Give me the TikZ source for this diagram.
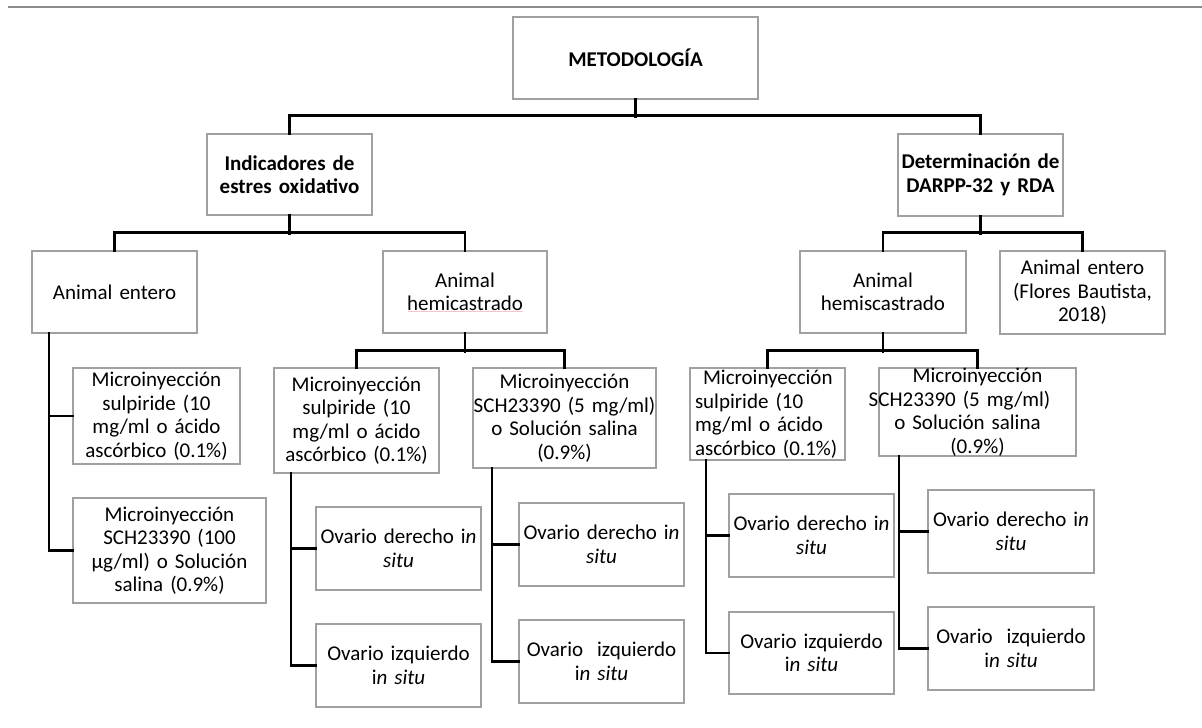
\documentclass[tikz,border=0pt]{standalone}
\usepackage{fontspec}
\setmainfont{Carlito}
\definecolor{boxgray}{HTML}{A0A0A0}
\definecolor{rulegray}{HTML}{8C8C8C}
\definecolor{spellred}{HTML}{F6C4CA}
\tikzset{
  box/.style={draw=boxgray, line width=1.3pt, fill=white, inner sep=0pt,
    align=center, font=\fontsize{21}{23.5}\selectfont},
  conn/.style={draw=black, line width=2.7pt, line cap=rect}
}
\begin{document}
\begin{tikzpicture}[x=1pt,y=-1pt]
\useasboundingbox (0,0) rectangle (1202,728);
\draw[rulegray, line width=1.4pt] (8,7) -- (1202,7);

% level 0
\node[box, text width=245pt, minimum height=82pt] (met) at (635.5,58) {\textbf{METODOLOGÍA}};
% level 1
\node[box, text width=165pt, minimum height=81pt] (ind) at (289.5,174.5) {\textbf{Indicadores de}\\\textbf{estres oxidativo}};
\node[box, text width=165pt, minimum height=82pt] (det) at (980.5,175) {\textbf{Determinación de}\\\textbf{DARPP-32 y RDA}};
% level 2
\node[box, text width=165pt, minimum height=82pt] (ae) at (114.5,292) {Animal entero};
\node[box, text width=164pt, minimum height=82pt] (ah) at (465,292) {Animal\\hemicastrado};
\node[box, text width=166pt, minimum height=82pt] (ahs) at (883,292) {Animal\\hemiscastrado};
\node[box, text width=165pt, minimum height=83pt] (afl) at (1082.5,292.5) {Animal entero\\(Flores Bautista,\\2018)};
% level 3
\node[box, text width=167pt, minimum height=96pt] (ms1) at (156.5,416) {Microinyección\\sulpiride (10\\mg/ml o ácido\\ascórbico (0.1\%)};
\node[box, text width=193pt, minimum height=105pt] (mc1) at (169.5,550.5) {Microinyección\\SCH23390 (100\\µg/ml) o Solución\\salina (0.9\%)};
\node[box, text width=165pt, minimum height=105pt] (ms2) at (356.5,420.5) {Microinyección\\sulpiride (10\\mg/ml o ácido\\ascórbico (0.1\%)};
\node[box, text width=183pt, minimum height=100pt] (mc2) at (564.5,418) {Microinyección\\SCH23390 (5 mg/ml)\\o Solución salina\\(0.9\%)};
\node[box, text width=145pt, inner xsep=5pt, align=left, minimum height=92pt] (ms3) at (767.5,414) {\hspace*{8pt}\mbox{Microinyección}\\\mbox{sulpiride (10}\\\mbox{mg/ml o ácido}\\\mbox{ascórbico (0.1\%)}};
\node[box, text width=197pt, minimum height=88pt] (mc3) at (977.5,412) {Microinyección\\\hspace*{-36pt}\mbox{SCH23390 (5 mg/ml)}\\\hspace*{-20pt}o Solución salina\\(0.9\%)};
% level 4
\node[box, text width=165pt, minimum height=83pt] (od2) at (398.5,548.5) {Ovario derecho i\textit{n}\\\textit{situ}};
\node[box, text width=165pt, minimum height=83pt] (oi2) at (398.5,665.5) {Ovario izquierdo\\i\textit{n situ}};
\node[box, text width=165pt, minimum height=83pt] (od3) at (601.5,544.5) {Ovario derecho i\textit{n}\\\textit{situ}};
\node[box, text width=165pt, minimum height=83pt] (oi3) at (601.5,661.5) {Ovario\ \ izquierdo\\i\textit{n situ}};
\node[box, text width=165pt, minimum height=83pt] (od4) at (811.5,535.5) {Ovario derecho i\textit{n}\\\textit{situ}};
\node[box, text width=165pt, minimum height=82pt] (oi4) at (811.5,653) {Ovario izquierdo\\i\textit{n situ}};
\node[box, text width=166pt, minimum height=83pt] (od5) at (1011,531.5) {Ovario derecho i\textit{n}\\\textit{situ}};
\node[box, text width=166pt, minimum height=83pt] (oi5) at (1011,648.5) {Ovario\ \ izquierdo\\i\textit{n situ}};

% spell-check underline
\draw[spellred, line width=0.6pt] (408,311.5) -- (523,311.5);

% vertical rail x positions
\coordinate (vx1) at (49,0);
\coordinate (vx2) at (291,0);
\coordinate (vx3) at (492,0);
\coordinate (vx4) at (706,0);
\coordinate (vx5) at (899,0);

% connectors
\draw[conn] (met.south) -- ++(0,17);
\draw[conn] (ind.north) -- ++(0,-18) -| (det.north);
\draw[conn] (ind.south) -- ++(0,18);
\draw[conn] (ae.north) -- ++(0,-18) -| (ah.north);
\draw[conn] (det.south) -- ++(0,17);
\draw[conn] (ahs.north) -- ++(0,-18) -| (afl.north);
\draw[conn] (ah.south) -- ++(0,18);
\draw[conn] (ms2.north) -- ++(0,-17) -| (mc2.north);
\draw[conn] (ahs.south) -- ++(0,18);
\draw[conn] (ms3.north) -- ++(0,-17) -| (mc3.north);

\draw[conn] (ae.south -| vx1) |- (mc1.west);
\draw[conn] (ms1.west) -- (ms1.west -| vx1);
\draw[conn] (ms2.south -| vx2) |- (oi2.west);
\draw[conn] (od2.west) -- (od2.west -| vx2);
\draw[conn] (mc2.south -| vx3) |- (oi3.west);
\draw[conn] (od3.west) -- (od3.west -| vx3);
\draw[conn] (ms3.south -| vx4) |- (oi4.west);
\draw[conn] (od4.west) -- (od4.west -| vx4);
\draw[conn] (mc3.south -| vx5) |- (oi5.west);
\draw[conn] (od5.west) -- (od5.west -| vx5);
\end{tikzpicture}
\end{document}
